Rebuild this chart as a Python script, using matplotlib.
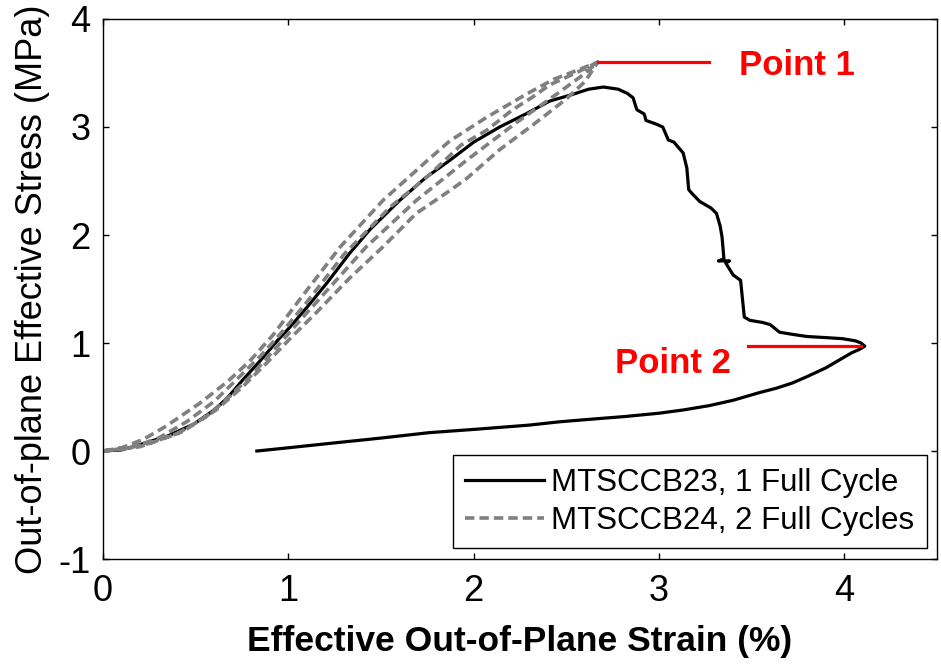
import numpy as np
import matplotlib
matplotlib.use("Agg")
import matplotlib.pyplot as plt

plt.rcParams['font.family'] = ['Liberation Sans', 'DejaVu Sans']
plt.rcParams['axes.unicode_minus'] = False

# MTSCCB23: single full cycle (loading, softening, unloading)
strain_b23 = [0.00, 0.10, 0.20, 0.35, 0.49, 0.60, 0.67, 0.75, 0.85, 0.95, 1.01, 1.10,
              1.21, 1.33, 1.44, 1.60, 1.74, 1.87, 2.00, 2.14, 2.28, 2.41, 2.53, 2.62,
              2.70, 2.74, 2.78, 2.83, 2.86, 2.88, 2.92, 2.93, 2.98, 3.02, 3.05, 3.08,
              3.13, 3.15, 3.16, 3.18, 3.22, 3.28, 3.31, 3.33, 3.34, 3.35, 3.32, 3.38,
              3.36, 3.40, 3.44, 3.46, 3.49, 3.56, 3.60, 3.65, 3.72, 3.80, 3.90, 3.99,
              4.06, 4.09, 4.11, 4.08, 4.04, 3.97, 3.90, 3.80, 3.72, 3.63, 3.54, 3.40,
              3.27, 3.13, 3.00, 2.82, 2.60, 2.46, 2.30, 2.00, 1.76, 1.50, 1.22, 1.00,
              0.83]
stress_b23 = [0.00, 0.01, 0.06, 0.14, 0.25, 0.38, 0.49, 0.65, 0.84, 1.04, 1.15, 1.33,
              1.56, 1.83, 2.05, 2.32, 2.53, 2.69, 2.86, 3.00, 3.12, 3.24, 3.30, 3.35,
              3.37, 3.36, 3.35, 3.31, 3.27, 3.16, 3.12, 3.06, 3.03, 3.00, 2.88, 2.86,
              2.76, 2.62, 2.42, 2.38, 2.31, 2.25, 2.20, 2.08, 1.98, 1.78, 1.76, 1.76,
              1.74, 1.63, 1.58, 1.24, 1.21, 1.19, 1.17, 1.10, 1.08, 1.06, 1.05, 1.04,
              1.02, 1.00, 0.97, 0.94, 0.91, 0.84, 0.77, 0.69, 0.63, 0.58, 0.54, 0.47,
              0.42, 0.38, 0.35, 0.32, 0.29, 0.27, 0.24, 0.20, 0.17, 0.12, 0.07, 0.03,
              0.00]

# MTSCCB24: two full cycles up to Point 1 and back
load1_strain = [0.00, 0.08, 0.25, 0.43, 0.61, 0.75, 0.88, 1.02, 1.15, 1.33, 1.51, 1.69,
                1.87, 1.96, 2.14, 2.32, 2.50, 2.60, 2.67]
load1_stress = [0.00, 0.02, 0.07, 0.18, 0.38, 0.59, 0.81, 1.06, 1.28, 1.60, 1.89, 2.20,
                2.41, 2.52, 2.79, 3.02, 3.26, 3.42, 3.60]
unload1_strain = [2.67, 2.55, 2.43, 2.29, 2.07, 1.87, 1.75, 1.51, 1.28, 1.06, 0.92, 0.79,
                  0.67, 0.52, 0.34, 0.22, 0.10, 0.00]
unload1_stress = [3.60, 3.52, 3.44, 3.31, 3.09, 2.87, 2.69, 2.32, 1.89, 1.40, 1.08, 0.83,
                  0.64, 0.44, 0.23, 0.11, 0.03, 0.00]
load2_strain = [0.00, 0.20, 0.40, 0.55, 0.68, 0.80, 0.93, 1.10, 1.42, 1.69, 1.96, 2.23,
                2.46, 2.58, 2.67]
load2_stress = [0.00, 0.04, 0.16, 0.31, 0.50, 0.70, 0.95, 1.28, 1.89, 2.32, 2.69, 3.04,
                3.32, 3.47, 3.60]
unload2_strain = [2.67, 2.55, 2.41, 2.32, 2.21, 2.07, 1.93, 1.75, 1.55, 1.30, 1.10, 0.98,
                  0.85, 0.72, 0.60, 0.45, 0.30, 0.15, 0.00]
unload2_stress = [3.60, 3.50, 3.39, 3.28, 3.16, 2.97, 2.83, 2.54, 2.26, 1.82, 1.38, 1.13,
                  0.88, 0.66, 0.46, 0.27, 0.12, 0.03, 0.00]

strain_b24 = np.concatenate([load1_strain, unload1_strain, load2_strain, unload2_strain])
stress_b24 = np.concatenate([load1_stress, unload1_stress, load2_stress, unload2_stress])

# Annotated points
point1 = (2.67, 3.60)
point2 = (4.09, 0.97)
point1_line_end = 3.27
point2_line_start = 3.48

fig = plt.figure(figsize=(9.41, 6.64), dpi=100)
ax = fig.add_axes([0.1095, 0.1581, 0.8863, 0.8133])

ax.plot(strain_b23, stress_b23, color='black', lw=2.3, solid_joinstyle='round',
        label='MTSCCB23, 1 Full Cycle')
ax.plot(strain_b24, stress_b24, color='#808080', lw=2.6, dashes=(2.6, 1.4),
        label='MTSCCB24, 2 Full Cycles')

ax.plot([point1[0], point1_line_end], [point1[1], point1[1]], color='red', lw=2.3)
ax.plot([point2_line_start, point2[0]], [point2[1], point2[1]], color='red', lw=2.3)
ax.text(3.43, 3.57, 'Point 1', color='red', fontsize=25, fontweight='bold',
        ha='left', va='center')
ax.text(2.76, 0.81, 'Point 2', color='red', fontsize=25, fontweight='bold',
        ha='left', va='center')

ax.set_xlim(0, 4.5)
ax.set_ylim(-1, 4)
ax.set_xticks([0, 1, 2, 3, 4])
ax.set_yticks([-1, 0, 1, 2, 3, 4])
ax.tick_params(direction='in', top=True, right=True, length=4, width=1,
               labelsize=26, pad=9)
ax.tick_params(axis='x', pad=11)
for s in ax.spines.values():
    s.set_linewidth(1.0)

ax.set_xlabel('Effective Out-of-Plane Strain (%)', fontsize=25.5, fontweight='bold',
              labelpad=11)
ax.set_ylabel('Out-of-plane Effective Stress (MPa)', fontsize=26, labelpad=6)

leg = ax.legend(loc='lower right', bbox_to_anchor=(0.988, 0.020), borderaxespad=0,
                fontsize=22.5, frameon=True, fancybox=False, framealpha=1,
                edgecolor='black', handlelength=2.5, handletextpad=0.25,
                labelspacing=0.25, borderpad=0.4)
leg.get_frame().set_linewidth(1.0)

fig.savefig('out.png', dpi=100)
